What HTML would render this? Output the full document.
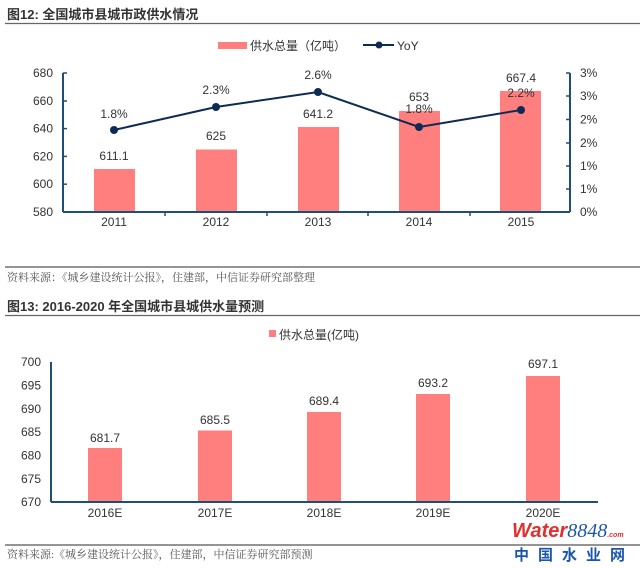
<!DOCTYPE html><html><head><meta charset="utf-8"><style>body{margin:0;background:#fff}svg{display:block}</style></head><body>
<svg width="640" height="568" xmlns="http://www.w3.org/2000/svg" font-family="Liberation Sans, Noto Sans CJK SC, sans-serif">
<rect width="640" height="568" fill="#fff"/>
<!-- Chart 1 -->
<text x="7" y="19" font-size="13" fill="#333" font-weight="bold">图12: 全国城市县城市政供水情况</text>
<line x1="5" y1="23.5" x2="640" y2="23.5" stroke="#666" stroke-width="1.2"/>
<rect x="218" y="42" width="29" height="7" fill="#ff7f7f"/>
<text x="250" y="50" font-size="12" fill="#333">供水总量（亿吨）</text>
<line x1="363" y1="45" x2="394" y2="45" stroke="#0d2b55" stroke-width="2"/><circle cx="379" cy="45" r="3.5" fill="#0d2b55"/>
<text x="397" y="50" font-size="12" fill="#333">YoY</text>
<g font-size="12" fill="#333" text-anchor="end">
<text x="53" y="77">680</text><text x="53" y="104.8">660</text><text x="53" y="132.6">640</text><text x="53" y="160.4">620</text><text x="53" y="188.2">600</text><text x="53" y="216">580</text></g>
<g font-size="12" fill="#333"><text x="580" y="77">3%</text><text x="580" y="100">3%</text><text x="580" y="123.5">2%</text><text x="580" y="147">2%</text><text x="580" y="170">1%</text><text x="580" y="193">1%</text><text x="580" y="216">0%</text></g>
<g fill="#ff7f7f"><rect x="94" y="169" width="41" height="43"/><rect x="196" y="149.5" width="41" height="62.5"/><rect x="298" y="127" width="41" height="85"/><rect x="399" y="111" width="41" height="101"/><rect x="500" y="91" width="41" height="121"/></g>
<g stroke="#1f4e79" stroke-width="2"><line x1="63" y1="73" x2="63" y2="212"/><line x1="570" y1="73" x2="570" y2="212"/><line x1="63" y1="212" x2="570" y2="212"/></g>
<g stroke="#1f4e79" stroke-width="1.5"><line x1="63" y1="73" x2="67" y2="73"/><line x1="63" y1="101" x2="67" y2="101"/><line x1="63" y1="128.6" x2="67" y2="128.6"/><line x1="63" y1="156.4" x2="67" y2="156.4"/><line x1="63" y1="184.2" x2="67" y2="184.2"/>
<line x1="566" y1="73" x2="570" y2="73"/><line x1="566" y1="96" x2="570" y2="96"/><line x1="566" y1="119.5" x2="570" y2="119.5"/><line x1="566" y1="143" x2="570" y2="143"/><line x1="566" y1="166" x2="570" y2="166"/><line x1="566" y1="189" x2="570" y2="189"/>
<line x1="165" y1="212" x2="165" y2="216"/><line x1="267" y1="212" x2="267" y2="216"/><line x1="368" y1="212" x2="368" y2="216"/><line x1="470" y1="212" x2="470" y2="216"/></g>
<polyline points="114,130 216,107 318,92 419,127 521,110" fill="none" stroke="#0d2b55" stroke-width="2"/>
<g fill="#0d2b55"><circle cx="114" cy="130" r="4"/><circle cx="216" cy="107" r="4"/><circle cx="318" cy="92" r="4"/><circle cx="419" cy="127" r="4"/><circle cx="521" cy="110" r="4"/></g>
<g font-size="12" fill="#333" text-anchor="middle">
<text x="114" y="118">1.8%</text><text x="216" y="94">2.3%</text><text x="318" y="79">2.6%</text><text x="419" y="113">1.8%</text><text x="521" y="97">2.2%</text>
<text x="114" y="160">611.1</text><text x="216" y="140">625</text><text x="318" y="118">641.2</text><text x="419" y="101">653</text><text x="521" y="82">667.4</text>
<text x="114" y="226">2011</text><text x="216" y="226">2012</text><text x="318" y="226">2013</text><text x="419" y="226">2014</text><text x="521" y="226">2015</text></g>
<line x1="5" y1="267" x2="640" y2="267" stroke="#555" stroke-width="1.2"/>
<text x="7" y="281" font-size="11" fill="#555" font-family="Liberation Serif, Noto Serif CJK SC, serif">资料来源：《城乡建设统计公报》，住建部，中信证券研究部整理</text>
<!-- Chart 2 -->
<text x="7" y="311" font-size="13" fill="#333" font-weight="bold">图13: 2016-2020 年全国城市县城供水量预测</text>
<line x1="5" y1="315.5" x2="640" y2="315.5" stroke="#666" stroke-width="1.2"/>
<rect x="269" y="330" width="7" height="7" fill="#ff7f7f"/>
<text x="279" y="339" font-size="12" fill="#333">供水总量(亿吨)</text>
<g font-size="12" fill="#333" text-anchor="end">
<text x="41" y="366">700</text><text x="41" y="389.4">695</text><text x="41" y="412.8">690</text><text x="41" y="436.2">685</text><text x="41" y="459.6">680</text><text x="41" y="483">675</text><text x="41" y="506">670</text></g>
<g fill="#ff7f7f"><rect x="88" y="448" width="34" height="54"/><rect x="198" y="430.5" width="34" height="71.5"/><rect x="307" y="412" width="34" height="90"/><rect x="416" y="394" width="34" height="108"/><rect x="526" y="376" width="34" height="126"/></g>
<g stroke="#1f4e79" stroke-width="2"><line x1="51" y1="362" x2="51" y2="502"/><line x1="51" y1="502" x2="598" y2="502"/></g>
<g font-size="12" fill="#333" text-anchor="middle">
<text x="105" y="442">681.7</text><text x="215" y="424">685.5</text><text x="324" y="405">689.4</text><text x="433" y="387">693.2</text><text x="543" y="368">697.1</text>
<text x="105" y="517">2016E</text><text x="215" y="517">2017E</text><text x="324" y="517">2018E</text><text x="433" y="517">2019E</text><text x="543" y="517">2020E</text></g>
<line x1="5" y1="545" x2="640" y2="545" stroke="#555" stroke-width="1.2"/>
<text x="7" y="558" font-size="11" fill="#555" font-family="Liberation Serif, Noto Serif CJK SC, serif">资料来源:《城乡建设统计公报》，住建部，中信证券研究部预测</text>
<text x="512" y="537" font-size="20" font-weight="bold" fill="#e03030" font-style="italic">Water<tspan fill="#1a56a8" font-family="Liberation Serif, serif" font-weight="normal">8848</tspan><tspan font-size="7" fill="#e03030">.com</tspan></text>
<text x="514" y="560" font-size="15" font-weight="bold" fill="#1a56a8" letter-spacing="9">中国水业网</text>
</svg></body></html>
